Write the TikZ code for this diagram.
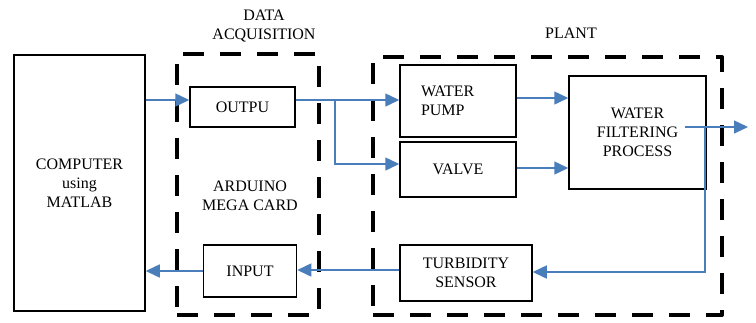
\documentclass[tikz,border=0pt]{standalone}
\usepackage{fontspec}
\setmainfont{Liberation Serif}
\usetikzlibrary{arrows.meta}
\definecolor{arrblue}{HTML}{4A7EBB}
\tikzset{
  blk/.style={draw=black, line width=1.5pt, inner sep=0pt, align=center, font=\fontsize{16}{19}\selectfont},
  dbox/.style={draw=black, line width=4pt, dash pattern=on 21pt off 16pt, line join=round, inner sep=0pt},
  lbl/.style={align=center, inner sep=0pt, font=\fontsize{16}{18.5}\selectfont},
  arr/.style={draw=arrblue, line width=1.5pt, -{Triangle[length=14pt,width=13pt]}},
  ln/.style={draw=arrblue, line width=1.5pt}
}
\begin{document}
\begin{tikzpicture}[x=1pt,y=-1pt]
\useasboundingbox (0,0) rectangle (756,322);
% dashed groups
\node[dbox, minimum width=142pt, minimum height=261pt] (da) at (248,184.5) {};
\node[dbox, minimum width=349pt, minimum height=258pt] (plant) at (547.5,186) {};
% labels
\node[lbl] (dalbl) at (264,26) {DATA\\ACQUISITION};
\node[lbl] (plantlbl) at (571,33) {PLANT};
\node[lbl] (ard) at (250,196) {ARDUINO\\MEGA CARD};
% blocks
\node[blk, minimum width=131pt, minimum height=256pt] (comp) at (79.5,183) {COMPUTER\\using\\MATLAB};
\node[blk, minimum width=105pt, minimum height=40pt] (outpu) at (242.5,107) {OUTPU};
\node[blk, minimum width=93pt, minimum height=52pt] (input) at (250,271) {INPUT};
\node[blk, minimum height=72pt, text width=74pt, inner xsep=21pt, align=left] (pump) at (458,101) {WATER\\PUMP};
\node[blk, minimum width=116pt, minimum height=55pt] (valve) at (458,169.5) {VALVE};
\node[blk, minimum width=137pt, minimum height=113pt] (filter) at (637.5,132.5) {WATER\\FILTERING\\PROCESS};
\node[blk, minimum width=132pt, minimum height=56pt] (turb) at (466,273) {TURBIDITY\\SENSOR};
% connectors
\coordinate (branch) at (335,100);
\coordinate (outend) at (748,127);
\coordinate (fbtop) at (705,127);
\draw[arr] (comp.east |- 0,100) -- (outpu.west |- 0,100);
\draw[ln] (outpu.east |- 0,100) -- (branch);
\draw[arr] (branch) -- (pump.west |- branch);
\draw[arr] (branch) |- (valve.west |- 0,164);
\draw[arr] (pump.east |- 0,98) -- (filter.west |- 0,98);
\draw[arr] (valve.east |- 0,168) -- (filter.west |- 0,168);
\draw[arr] (filter.center |- outend) ++(47,0) -- (outend);
\draw[arr] (fbtop) |- (turb.east |- 0,272);
\draw[arr] (turb.west |- 0,270) -- (input.east |- 0,270);
\draw[arr] (input.west |- 0,271) -- (comp.east |- 0,271);
\end{tikzpicture}
\end{document}
